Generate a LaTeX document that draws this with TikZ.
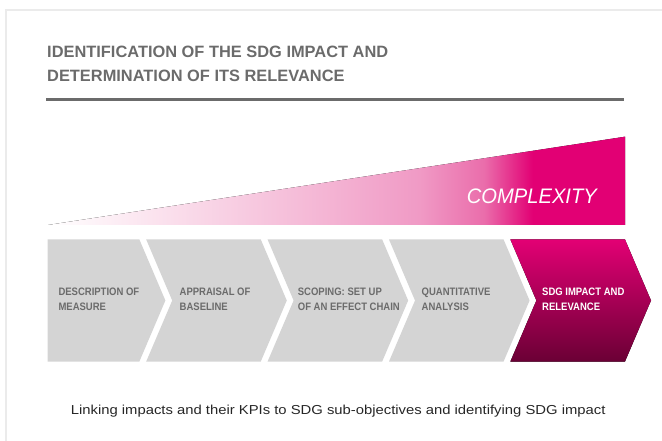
\documentclass[tikz,border=0pt]{standalone}
\usepackage{fontspec}
\setmainfont{Liberation Sans}
\newfontfamily\condfont{Liberation Sans}[FakeStretch=0.88]
\newfontfamily\widefont{Liberation Sans}[FakeStretch=1.14]
\newfontfamily\cplxfont{Liberation Sans}[FakeStretch=0.96]
\usetikzlibrary{positioning,calc}
\definecolor{tmagenta}{HTML}{E20074}
\definecolor{tdark}{HTML}{6B0035}
\definecolor{chevgray}{HTML}{D4D4D4}
\definecolor{textgray}{HTML}{6B6B6B}
\definecolor{framegray}{HTML}{EBEBEB}
\definecolor{pinkA}{HTML}{FBE4EF}
\definecolor{pinkB}{HTML}{F5BCD8}
\definecolor{pinkC}{HTML}{F09AC5}
\definecolor{pinkD}{HTML}{EA6DAB}
\pgfdeclarehorizontalshading{complexity}{100bp}{color(0bp)=(white); color(25bp)=(white);
  color(33.8bp)=(pinkA); color(46.8bp)=(pinkB); color(57.2bp)=(pinkC);
  color(62.8bp)=(pinkD); color(67bp)=(tmagenta); color(100bp)=(tmagenta)}
\tikzset{font=\small,
  titletext/.style={anchor=base west, inner sep=0pt, align=left, text=textgray,
    font=\fontsize{16.4}{24.7}\selectfont\bfseries},
  chevbox/.style={fill=chevgray},
  chevtext/.style={anchor=base west, inner sep=0pt, align=left, text=textgray,
    font=\fontsize{10.8}{15}\selectfont\condfont\bfseries}}

\begin{document}
\begin{tikzpicture}[x=1pt,y=-1pt]
	\useasboundingbox (0,0) rectangle (662,441);
	\draw[framegray, line width=1.2pt] (6,441) -- (6,10) -- (662,10);

	% heading
	\node[titletext] (title) at (47,82) {IDENTIFICATION OF THE SDG IMPACT AND\\DETERMINATION OF ITS RELEVANCE};
	\coordinate (rl) at (46,100);
	\coordinate (rr) at (624,100);
	\draw[textgray, line width=3pt] (rl) -- (rr);

	% complexity wedge
	\coordinate (wl) at (48,225);
	\coordinate (wt) at (625,136.7);
	\coordinate (wb) at (625,225);
	\fill[shading=complexity] (wl) -- (wt) -- (wb) -- cycle;
	\node[anchor=base west, inner sep=0pt, text=white, font=\fontsize{21}{21}\selectfont\cplxfont\itshape] (cplx) at (466.7,203.3) {COMPLEXITY};

	% chevrons
	\fill[chevbox] (47.7,239.5) -- (139.4,239.5) -- (165.4,300.5) -- (139.4,361.5) -- (47.7,361.5) -- cycle;
	\foreach \i in {1,2,3} {
		\fill[chevbox] ({146.2+121.4*(\i-1)},239.5) -- ({139.4+121.4*\i},239.5) -- ({165.4+121.4*\i},300.5)
			-- ({139.4+121.4*\i},361.5) -- ({146.2+121.4*(\i-1)},361.5) -- ({172.2+121.4*(\i-1)},300.5) -- cycle;
	}
	\fill[top color=tmagenta, bottom color=tdark] (510.4,239.5) -- (625,239.5) -- (651,300.5)
		-- (625,361.5) -- (510.4,361.5) -- (536.4,300.5) -- cycle;

	\node[chevtext] (s1) at (58.3,310) {DESCRIPTION OF\\MEASURE};
	\node[chevtext] (s2) at (179.5,310) {APPRAISAL OF\\BASELINE};
	\node[chevtext] (s3) at (297.7,310) {SCOPING: SET UP\\OF AN EFFECT CHAIN};
	\node[chevtext] (s4) at (421.5,310) {QUANTITATIVE\\ANALYSIS};
	\node[chevtext, text=white] (s5) at (542,310) {SDG IMPACT AND\\RELEVANCE};

	% caption
	\node[anchor=base west, inner sep=0pt, text=black!85, font=\fontsize{13}{16}\selectfont\widefont] (caption) at (70.7,414) {Linking impacts and their KPIs to SDG sub-objectives and identifying SDG impact};
\end{tikzpicture}
\end{document}
